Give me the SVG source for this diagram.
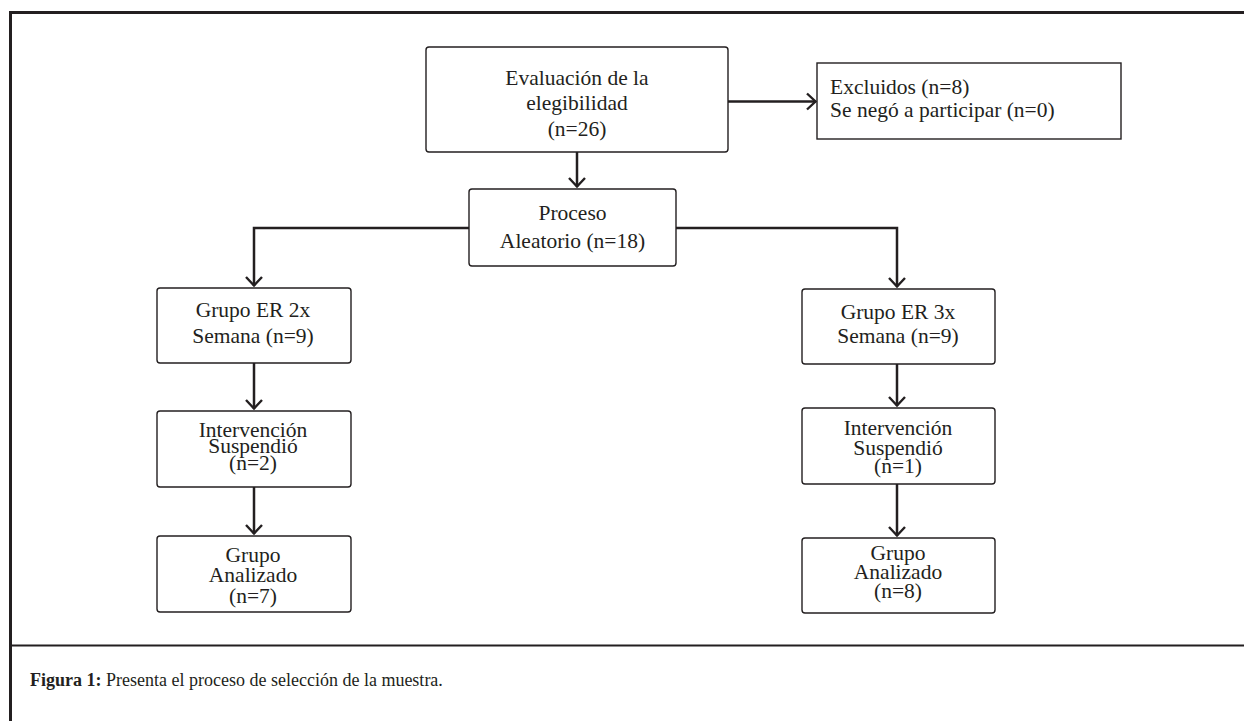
<svg xmlns="http://www.w3.org/2000/svg" width="1244" height="721" viewBox="0 0 1244 721">
<style>
.box{fill:#fff;stroke:#231f20;stroke-width:1.4}
.t{font-family:"Liberation Serif","Times New Roman",serif;font-size:21.5px;fill:#231f20}
.c{text-anchor:middle}
.conn{fill:none;stroke:#231f20;stroke-width:2.5}
.cap{font-family:"Liberation Serif","Times New Roman",serif;font-size:18px;fill:#231f20}
</style>
<defs>
<marker id="arr" markerWidth="20" markerHeight="20" refX="11" refY="10" orient="auto" markerUnits="userSpaceOnUse" viewBox="0 0 20 20">
<path d="M2,2 L10.5,10 L2,18" fill="none" stroke="#231f20" stroke-width="2.4"/>
</marker>
</defs>
<rect width="1244" height="721" fill="#fff"/>
<g id="frame" fill="none" stroke="#231f20">
<path d="M10.5,721 L10.5,12.5 L1244,12.5" stroke-width="3"/>
<line x1="10" y1="645.5" x2="1244" y2="645.5" stroke-width="2"/>
</g>
<g id="connectors" class="conn">
<line x1="728" y1="101.5" x2="816" y2="101.5" marker-end="url(#arr)"/>
<line x1="577" y1="152" x2="577" y2="187" marker-end="url(#arr)"/>
<path d="M469,228 L254,228 L254,286" marker-end="url(#arr)"/>
<path d="M676,228 L897,228 L897,287" marker-end="url(#arr)"/>
<line x1="254" y1="363" x2="254" y2="409" marker-end="url(#arr)"/>
<line x1="254" y1="487" x2="254" y2="534" marker-end="url(#arr)"/>
<line x1="897" y1="364" x2="897" y2="406" marker-end="url(#arr)"/>
<line x1="897" y1="484" x2="897" y2="536" marker-end="url(#arr)"/>
</g>
<g id="evaluacion">
<rect class="box" x="426" y="47" width="302" height="105" rx="3"/>
<text class="t c" x="577" y="85">Evaluación de la</text>
<text class="t c" x="577" y="110">elegibilidad</text>
<text class="t c" x="577" y="136">(n=26)</text>
</g>
<g id="excluidos">
<rect class="box" x="817" y="63" width="304" height="76"/>
<text class="t" x="830" y="94">Excluidos (n=8)</text>
<text class="t" x="830" y="117">Se negó a participar (n=0)</text>
</g>
<g id="proceso">
<rect class="box" x="469" y="189" width="207" height="77" rx="3"/>
<text class="t c" x="572.5" y="220">Proceso</text>
<text class="t c" x="572.5" y="248">Aleatorio (n=18)</text>
</g>
<g id="grupo2x">
<rect class="box" x="157" y="288" width="194" height="75" rx="3"/>
<text class="t c" x="253" y="317">Grupo ER 2x</text>
<text class="t c" x="253" y="343">Semana (n=9)</text>
</g>
<g id="intervencion2x">
<rect class="box" x="157" y="411" width="194" height="76" rx="3"/>
<text class="t c" x="253" y="437">Intervención</text>
<text class="t c" x="253" y="453">Suspendió</text>
<text class="t c" x="253" y="470">(n=2)</text>
</g>
<g id="analizado2x">
<rect class="box" x="157" y="536" width="194" height="76" rx="3"/>
<text class="t c" x="253" y="562">Grupo</text>
<text class="t c" x="253" y="582">Analizado</text>
<text class="t c" x="253" y="603">(n=7)</text>
</g>
<g id="grupo3x">
<rect class="box" x="802" y="289" width="193" height="75" rx="3"/>
<text class="t c" x="898" y="319">Grupo ER 3x</text>
<text class="t c" x="898" y="343">Semana (n=9)</text>
</g>
<g id="intervencion3x">
<rect class="box" x="802" y="408" width="193" height="76" rx="3"/>
<text class="t c" x="898" y="435">Intervención</text>
<text class="t c" x="898" y="455">Suspendió</text>
<text class="t c" x="898" y="473">(n=1)</text>
</g>
<g id="analizado3x">
<rect class="box" x="802" y="538" width="193" height="75" rx="3"/>
<text class="t c" x="898" y="560">Grupo</text>
<text class="t c" x="898" y="579">Analizado</text>
<text class="t c" x="898" y="598">(n=8)</text>
</g>
<g id="caption">
<text class="cap" x="30" y="686"><tspan font-weight="bold">Figura 1:</tspan> Presenta el proceso de selección de la muestra.</text>
</g>
</svg>
